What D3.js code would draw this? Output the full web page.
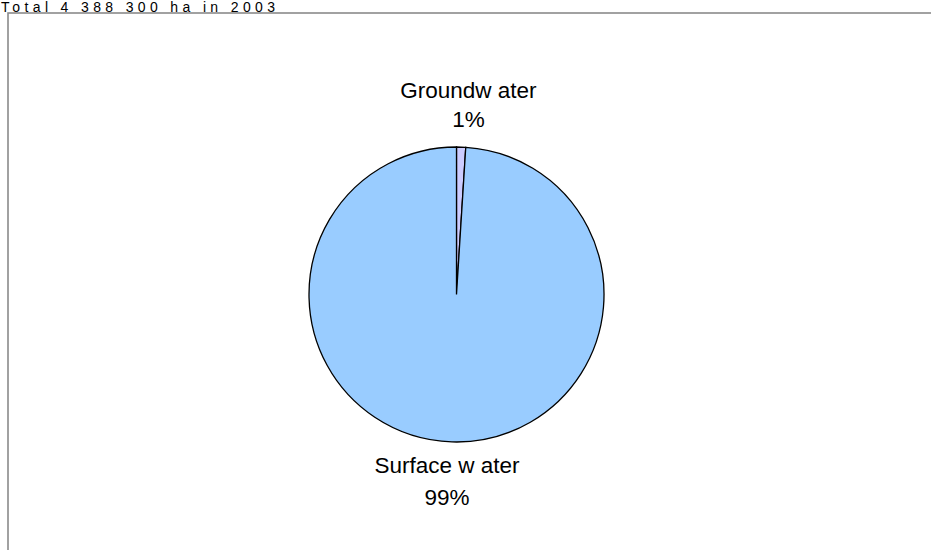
<!DOCTYPE html>
<html>
<head>
<meta charset="utf-8">
<script src="https://cdn.jsdelivr.net/npm/d3@7"></script>
<style>
  html, body { margin: 0; padding: 0; background: #fff; }
  svg { display: block; }
</style>
</head>
<body>
<svg id="chart" width="931" height="550"></svg>
<script>
// Irrigated area by water source
const title = "Total 4 388 300 ha in 2003";
const categories = ["Groundw ater", "Surface w ater"];
const values = [1, 99];
const colors = ["#CCCCFF", "#99CCFF"];

const svg = d3.select("#chart");
const W = 931, H = 550;

// heading above the frame
svg.append("text")
  .attr("x", 1)
  .attr("y", 11.5)
  .attr("font-family", "Liberation Sans, Arial, sans-serif")
  .attr("font-size", 14)
  .attr("fill", "#000")
  .attr("textLength", 274)
  .attr("lengthAdjust", "spacing")
  .text(title);

// plot frame, running off the right and bottom edges
svg.append("rect")
  .attr("x", 8)
  .attr("y", 13)
  .attr("width", W + 20)
  .attr("height", H + 20)
  .attr("fill", "none")
  .attr("stroke", "#8a8a8a")
  .attr("stroke-width", 1.6);

const cx = 456.5, cy = 294.5, radius = 147.5;
const g = svg.append("g").attr("transform", `translate(${cx},${cy})`);

const pie = d3.pie().sort(null).value(d => d.v);
const data = pie(categories.map((c, i) => ({ c, v: values[i], col: colors[i] })));
const arc = d3.arc().innerRadius(0).outerRadius(radius);

g.selectAll("path.slice")
  .data(data)
  .join("path")
  .attr("class", "slice")
  .attr("d", arc)
  .attr("fill", d => d.data.col)
  .attr("stroke", "#000")
  .attr("stroke-width", 1.3);

// labels outside the pie: name and percentage
const total = d3.sum(values);
const fmt = d3.format(".0%");
const labelArc = d3.arc().innerRadius(radius + 10).outerRadius(radius + 10);
const fs = 22.5;

data.forEach((d, i) => {
  const [lx, ly] = labelArc.centroid(d);
  const above = ly < 0;
  const x = lx + (above ? 7 : -4.5);
  const base = above ? ly - 39 : ly + 21;
  const t = g.append("text")
    .attr("font-family", "Liberation Sans, Arial, sans-serif")
    .attr("font-size", fs)
    .attr("fill", "#000")
    .attr("text-anchor", "middle");
  t.append("tspan").attr("x", x).attr("y", base).text(d.data.c);
  t.append("tspan").attr("x", x).attr("y", base + (above ? 29 : 32)).text(fmt(d.data.v / total));
});
</script>
</body>
</html>
